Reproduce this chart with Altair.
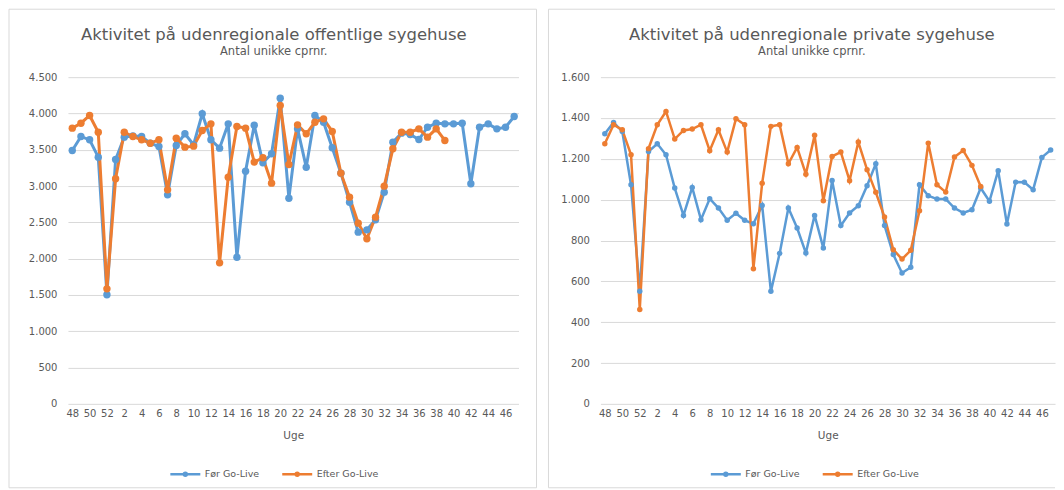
import altair as alt
import pandas as pd

FONT = "DejaVu Sans"
GREY = "#595959"
GRID = "#D9D9D9"

weeks = [48, 49, 50, 51, 52, 1, 2, 3, 4, 5, 6, 7, 8, 9, 10, 11, 12, 13, 14, 15,
         16, 17, 18, 19, 20, 21, 22, 23, 24, 25, 26, 27, 28, 29, 30, 31, 32, 33,
         34, 35, 36, 37, 38, 39, 40, 41, 42, 43, 44, 45, 46, 47]
week_labels = [48, 50, 52, 2, 4, 6, 8, 10, 12, 14, 16, 18, 20, 22, 24, 26, 28,
               30, 32, 34, 36, 38, 40, 42, 44, 46]
series = ["Før Go-Live", "Efter Go-Live"]
colors = ["#5B9BD5", "#ED7D31"]

off_foer = [3490, 3683, 3637, 3398, 1502, 3366, 3674, 3690, 3683, 3590, 3545, 2879,
            3559, 3720, 3570, 3995, 3637, 3522, 3857, 2020, 3205, 3838, 3320, 3444,
            4211, 2833, 3788, 3260, 3972, 3880, 3527, 3178, 2778, 2365, 2397, 2535,
            2916, 3605, 3729, 3710, 3641, 3811, 3866, 3857, 3857, 3866, 3031, 3811,
            3857, 3788, 3811, 3958]
off_efter = [3798, 3866, 3972, 3742, 1584, 3100, 3742, 3683, 3637, 3590, 3637, 2948,
             3660, 3536, 3550, 3765, 3857, 1942, 3123, 3820, 3798, 3330, 3390, 3040,
             4110, 3297, 3843, 3720, 3880, 3926, 3752, 3178, 2847, 2489, 2273, 2572,
             2999, 3513, 3742, 3742, 3788, 3674, 3788, 3628]
priv_foer = [1323, 1378, 1334, 1073, 551, 1236, 1274, 1220, 1057, 923, 1060, 902,
             1005, 959, 899, 933, 899, 882, 972, 551, 737, 959, 861, 739, 923, 763,
             1094, 873, 935, 970, 1068, 1176, 873, 731, 641, 669, 1073, 1019, 1003,
             1003, 959, 935, 951, 1057, 992, 1142, 881, 1086, 1085, 1049, 1207, 1243]
priv_efter = [1274, 1367, 1342, 1220, 462, 1250, 1367, 1432, 1297, 1339, 1346, 1367,
              1240, 1342, 1233, 1396, 1367, 662, 1081, 1359, 1367, 1176, 1256, 1125,
              1315, 995, 1212, 1233, 1093, 1282, 1147, 1036, 915, 755, 709, 752, 946,
              1277, 1073, 1037, 1209, 1241, 1168, 1065]

off_ticks = [0, 500, 1000, 1500, 2000, 2500, 3000, 3500, 4000, 4500]
priv_ticks = [0, 200, 400, 600, 800, 1000, 1200, 1400, 1600]


def make_df(foer, efter):
    rows = []
    for name, vals in zip(series, [foer, efter]):
        for i, v in enumerate(vals):
            rows.append({"Uge": weeks[i], "Serie": name, "Antal": v, "i": i})
    return pd.DataFrame(rows)


LEG_PATH = "M-1,0H1M-0.1,0A0.1,0.1,0,1,0,0.1,0A0.1,0.1,0,1,0,-0.1,0"
H = 327


def panel(df, title, ticks, w, legx, lw, ps, frame, dx):
    x = alt.X("Uge:O", sort=weeks, title="Uge",
              axis=alt.Axis(values=week_labels, labelAngle=0, ticks=False, tickSize=0,
                            domain=False, grid=False, labelPadding=5,
                            labelFontSize=10, labelColor=GREY, labelFont=FONT,
                            titleFont=FONT, titleFontSize=10.5, titleColor=GREY,
                            titleFontWeight="normal", titlePadding=12))
    y = alt.Y("Antal:Q", title=None,
              scale=alt.Scale(domain=[ticks[0], ticks[-1]], nice=False),
              axis=alt.Axis(values=ticks, ticks=False, tickSize=0, domain=False,
                            grid=True, gridColor=GRID, gridWidth=1,
                            labelPadding=11, labelFontSize=10, labelColor=GREY,
                            labelFont=FONT,
                            labelExpr="replace(format(datum.value, ','), ',', '.')"))
    cscale = alt.Scale(domain=series, range=colors)
    leg = alt.Legend(title=None, orient="none", legendX=legx, legendY=381,
                     direction="horizontal", symbolType=LEG_PATH, symbolSize=900,
                     symbolStrokeWidth=2.5, labelFontSize=9.5, labelColor=GREY,
                     labelFont=FONT, columnPadding=17, labelOffset=3)
    base = alt.Chart(df).encode(x=x, y=y, order=alt.Order("i:Q"))
    line = base.mark_line(strokeWidth=lw).encode(
        color=alt.Color("Serie:N", scale=cscale, legend=leg))
    pts = base.mark_circle(size=ps, opacity=1).encode(
        color=alt.Color("Serie:N", scale=cscale, legend=None))
    return alt.layer(*frame, line, pts).properties(
        width=w, height=H,
        title=alt.TitleParams(text=title, subtitle="Antal unikke cprnr.",
                              anchor="middle", frame="bounds", offset=-49, dx=dx,
                              font=FONT, fontSize=16.5, fontWeight="normal",
                              color=GREY, subtitleFont=FONT, subtitleFontSize=11.5,
                              subtitleColor=GREY, subtitlePadding=3))


one = pd.DataFrame({"f": [0]})
WL, WR = 451, 455
FB = H + 84
FT = -68
frame_left = [alt.Chart(one).mark_rect(fill="transparent", stroke=GRID, strokeWidth=1).encode(
    x=alt.value(-59), x2=alt.value(WL + 18), y=alt.value(FT), y2=alt.value(FB))]
frame_right = [
    alt.Chart(one).mark_rule(stroke=GRID, strokeWidth=1).encode(
        x=alt.value(-52), y=alt.value(FT), y2=alt.value(FB)),
    alt.Chart(one).mark_rule(stroke=GRID, strokeWidth=1).encode(
        x=alt.value(-52), x2=alt.value(WR), y=alt.value(FT)),
    alt.Chart(one).mark_rule(stroke=GRID, strokeWidth=1).encode(
        x=alt.value(-52), x2=alt.value(WR), y=alt.value(FB)),
]

left = panel(make_df(off_foer, off_efter), "Aktivitet på udenregionale offentlige sygehuse",
             off_ticks, WL, 101, 3, 55, frame_left, 1)
right = panel(make_df(priv_foer, priv_efter), "Aktivitet på udenregionale private sygehuse",
              priv_ticks, WR, 109, 2.5, 30, frame_right, 10)

chart = alt.hconcat(left, right, spacing=10).properties(
    padding=0
).resolve_scale(color="independent").resolve_legend(
    color="independent"
).configure_view(stroke=None).configure_scale(pointPadding=0.5)

chart.save("out.html", embed_options={"renderer": "svg", "actions": False})
